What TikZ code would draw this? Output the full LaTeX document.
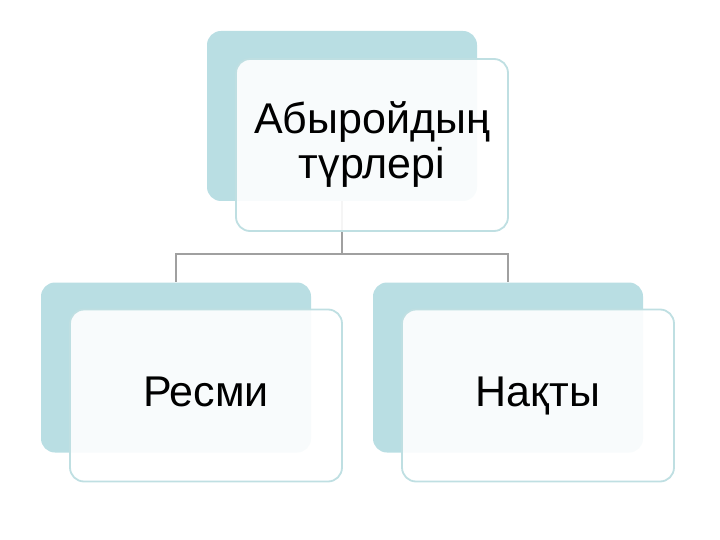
\documentclass[tikz,border=0pt]{standalone}
\usepackage{fontspec}
\setmainfont{Liberation Sans}
\usetikzlibrary{positioning,trees}

\definecolor{backteal}{HTML}{B9DEE3}
\definecolor{edgeteal}{HTML}{BFDFE2}
\definecolor{linkgray}{HTML}{A0A0A0}

\begin{document}
\begin{tikzpicture}[
	level distance=251.5pt,
	edge from parent/.style={line width=2pt,draw=linkgray},
	edge from parent path={(\tikzparentnode.south) -- ++(0,-53pt)
		-|(\tikzchildnode.north)},
	sibling distance = 332pt]

\tikzstyle{backbox} = [
    rounded corners = 14pt,
    fill = backteal,
    minimum width = 270pt,
    minimum height = 170pt
]
\tikzstyle{frontbox} = [
    rounded corners = 14pt,
    draw = edgeteal,
    line width = 1.8pt,
    fill = white,
    fill opacity = 0.9,
    text opacity = 1,
    align = center,
    minimum width = 272pt,
    minimum height = 172pt,
    font = \fontsize{43}{45}\selectfont
]
\tikzstyle{leafbox} = [
    frontbox,
    text height = 31pt,
    text depth = 9pt
]

\useasboundingbox (0,0) rectangle (720pt,-540pt);

% back boxes and links
\node [backbox] (types) at (342pt,-116pt) {}
	child { node [backbox] (formal) {}}
	child { node [backbox] (actual) {}};

% front boxes with the text
\node [frontbox] (typestext) at ([xshift=30pt,yshift=-29pt]types.center)
	{Абыройдың\\түрлері};
\node [leafbox] (formaltext) at ([xshift=30pt,yshift=-28pt]formal.center)
	{Ресми};
\node [leafbox] (actualtext) at ([xshift=30pt,yshift=-28pt]actual.center)
	{Нақты};
\end{tikzpicture}
\end{document}
